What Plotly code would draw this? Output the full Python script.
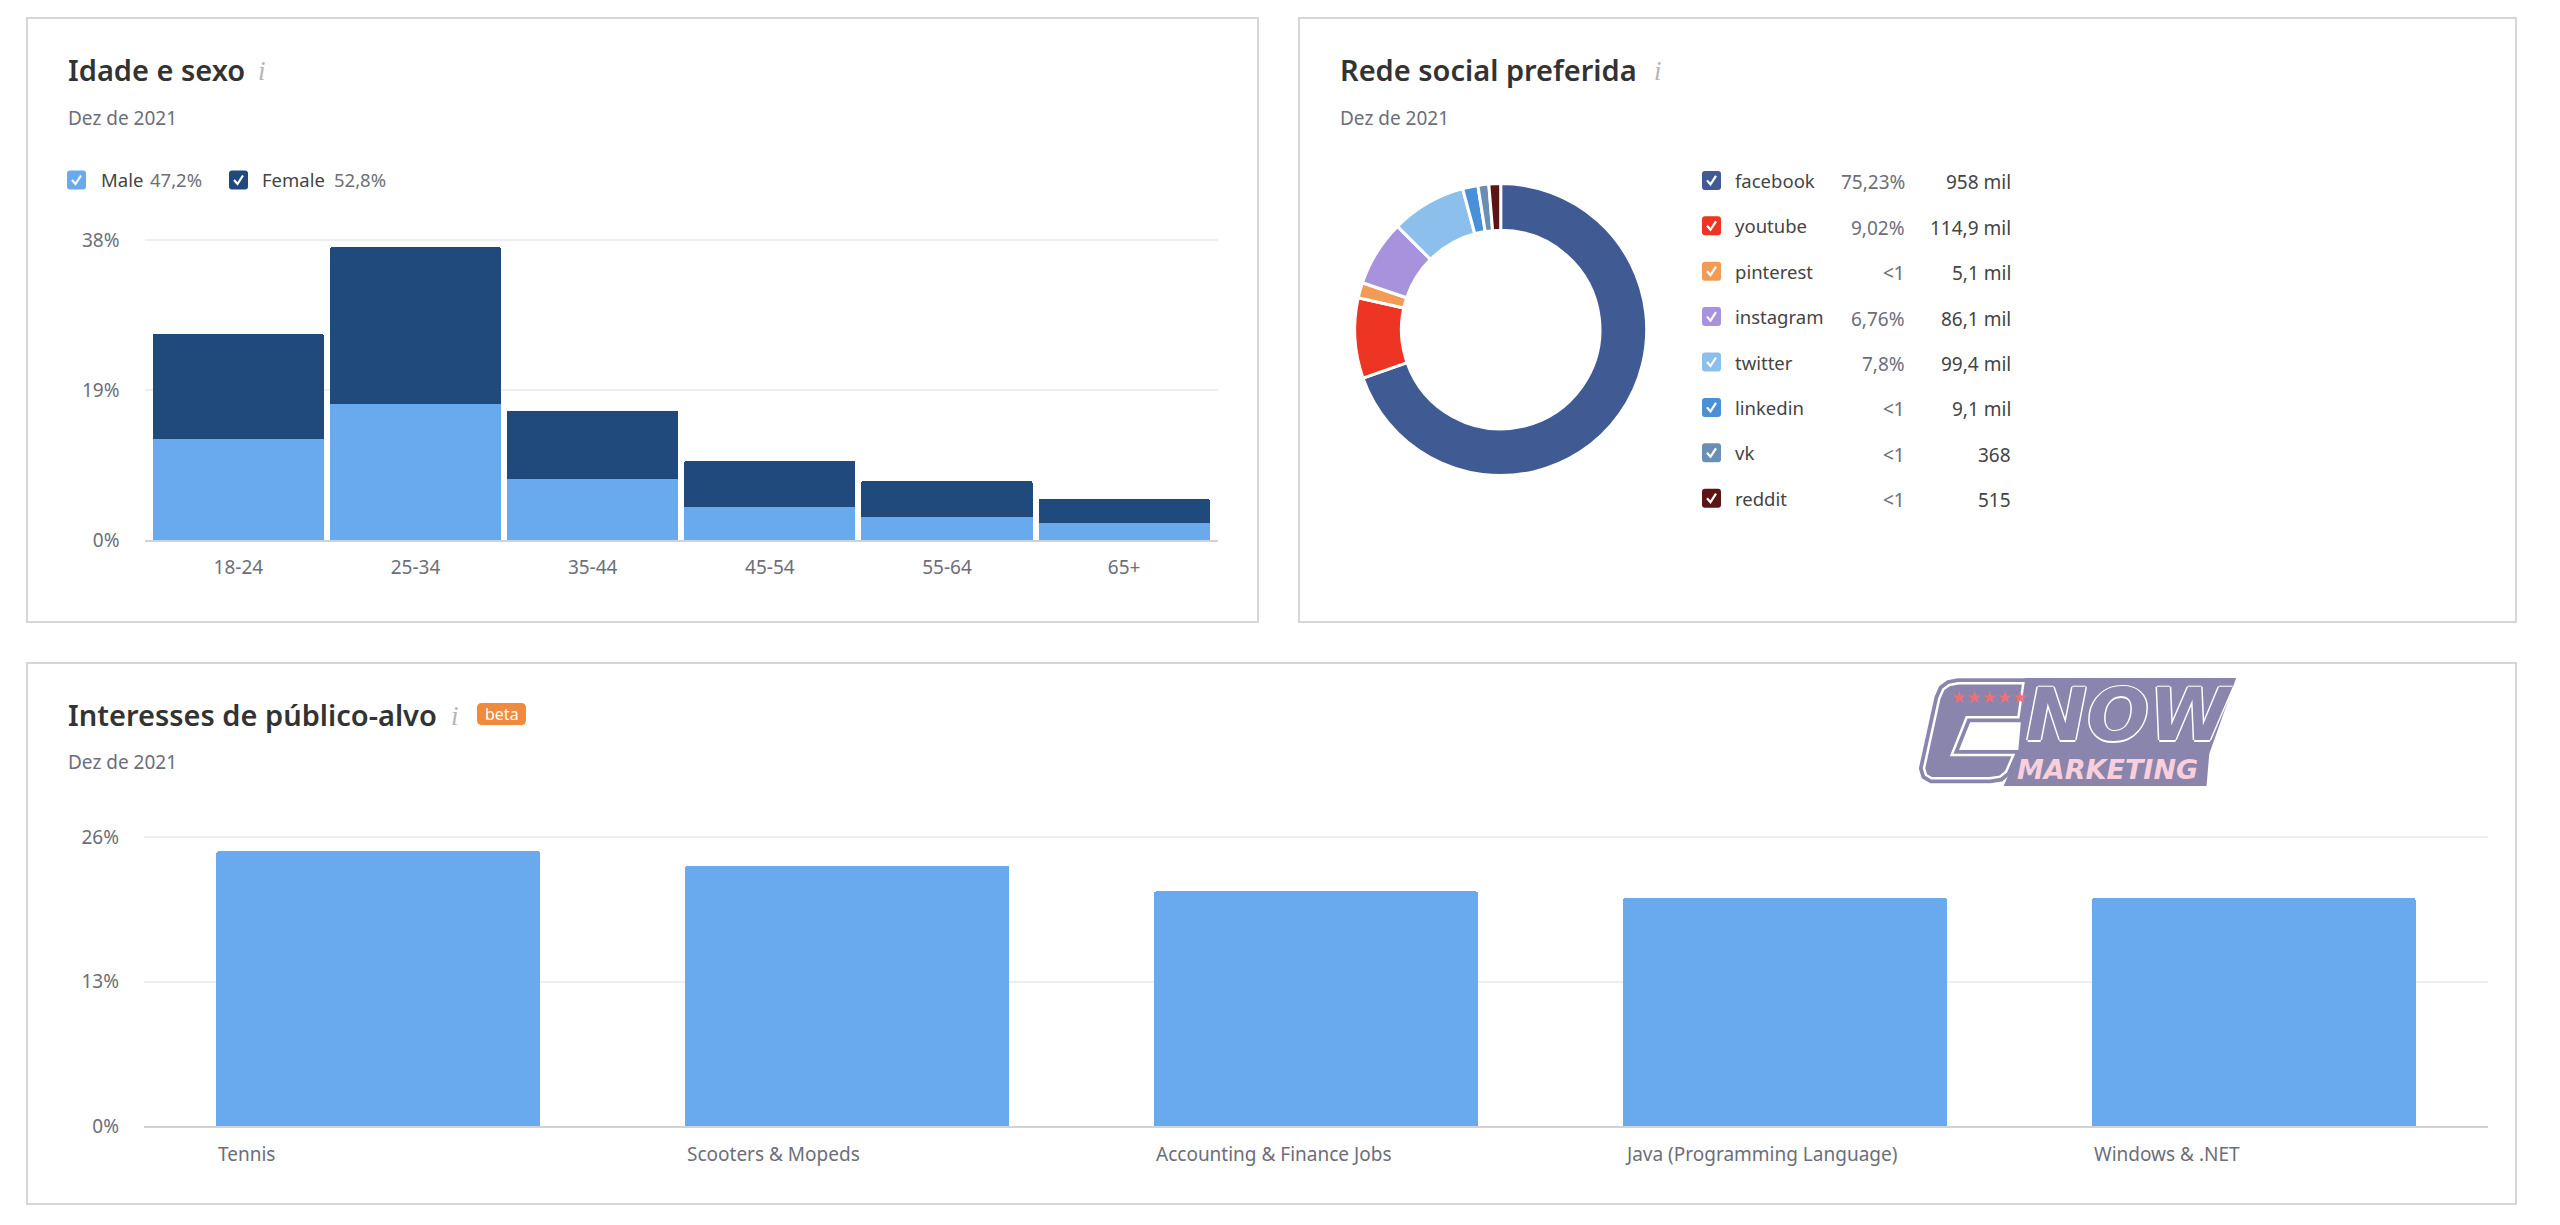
"""SEMrush-style audience dashboard: age and sex, social networks, interests."""

import plotly.graph_objects as go

W, H = 2560, 1225
FONT = "Noto Sans"

# ── Data ──────────────────────────────────────────────────────────────────────

age_groups = ["18-24", "25-34", "35-44", "45-54", "55-64", "65+"]
male_values = [12.8, 17.2, 7.7, 4.2, 2.9, 2.1]
female_values = [13.3, 19.9, 8.7, 5.8, 4.6, 3.1]
age_ticks = [0, 19, 38]
age_tick_labels = ["0%", "19%", "38%"]

social_names = ["facebook", "youtube", "pinterest", "instagram", "twitter", "linkedin", "vk", "reddit"]
social_shares = [69.6, 8.9, 1.7, 7.3, 8.3, 1.7, 1.2, 1.3]
social_pct = ["75,23%", "9,02%", "<1", "6,76%", "7,8%", "<1", "<1", "<1"]
social_counts = ["958 mil", "114,9 mil", "5,1 mil", "86,1 mil", "99,4 mil", "9,1 mil", "368", "515"]
social_colors = ["#405a94", "#ee3524", "#f29b56", "#a793dd", "#8dbfec", "#4a90d9", "#6a8fb3", "#5d1414"]

interest_names = ["Tennis", "Scooters & Mopeds", "Accounting & Finance Jobs",
                  "Java (Programming Language)", "Windows & .NET"]
interest_values = [24.7, 23.4, 21.1, 20.5, 20.5]
interest_ticks = [0, 13, 26]
interest_tick_labels = ["0%", "13%", "26%"]

LIGHT_BLUE = "#69aaee"
DARK_BLUE = "#214a7c"
GRID = "#eeeeee"
AXIS = "#cfd2d8"
TICK_TEXT = "#6c6e79"
TITLE_TEXT = "#333333"
BORDER = "#d6d6d6"
LOGO = "#8a85ad"


# ── Pixel helpers ─────────────────────────────────────────────────────────────

def px(x):
    return x / W


def py(y):
    return 1 - y / H


def label(x, y, text, size=19, color=TICK_TEXT, anchor="left", family=FONT, **font_kw):
    return dict(
        x=px(x), y=py(y), xref="paper", yref="paper", text=text, showarrow=False,
        xanchor=anchor, yanchor="middle", font=dict(family=family, size=size, color=color, **font_kw),
    )


def round_rect(x0, y0, x1, y1, r):
    return (
        f"M {px(x0 + r)} {py(y0)} L {px(x1 - r)} {py(y0)} "
        f"Q {px(x1)} {py(y0)} {px(x1)} {py(y0 + r)} L {px(x1)} {py(y1 - r)} "
        f"Q {px(x1)} {py(y1)} {px(x1 - r)} {py(y1)} L {px(x0 + r)} {py(y1)} "
        f"Q {px(x0)} {py(y1)} {px(x0)} {py(y1 - r)} L {px(x0)} {py(y0 + r)} "
        f"Q {px(x0)} {py(y0)} {px(x0 + r)} {py(y0)} Z"
    )


def checkbox(x, yc, color, size=19):
    y0 = yc - size / 2
    box = dict(type="path", xref="paper", yref="paper", path=round_rect(x, y0, x + size, y0 + size, 3),
               fillcolor=color, line=dict(width=0))
    tick = (
        f"M {px(x + 5)} {py(yc)} L {px(x + 8.5)} {py(yc + 4)} L {px(x + 14)} {py(yc - 4.5)}"
    )
    check = dict(type="path", xref="paper", yref="paper", path=tick, line=dict(color="white", width=2.2))
    return [box, check]


def panel(x0, y0, x1, y1):
    return dict(type="rect", xref="paper", yref="paper", x0=px(x0), x1=px(x1), y0=py(y0), y1=py(y1),
                line=dict(color=BORDER, width=2), fillcolor="rgba(0,0,0,0)", layer="below")


def panel_header(x, y_title, y_sub, title, info_x):
    return [
        label(x, y_title, title, size=29, color=TITLE_TEXT, weight=600),
        label(info_x, y_title + 2, "i", size=27, color="#b5b5b5", family="Liberation Serif", style="italic"),
        label(x, y_sub, "Dez de 2021"),
    ]


def logo_path(points):
    parts = [f"{px(1800 + x / 3)} {py(640 + y / 3)}" for x, y in points]
    return "M " + " L ".join(parts) + " Z"


# ── Figure ────────────────────────────────────────────────────────────────────

fig = go.Figure()

fig.add_trace(go.Bar(x=age_groups, y=male_values, name="Male", marker=dict(color=LIGHT_BLUE, line=dict(width=0)),
                     xaxis="x", yaxis="y"))
fig.add_trace(go.Bar(x=age_groups, y=female_values, name="Female", marker=dict(color=DARK_BLUE, line=dict(width=0)),
                     xaxis="x", yaxis="y"))

fig.add_trace(go.Pie(
    labels=social_names, values=social_shares, sort=False, direction="clockwise", rotation=0, hole=0.68,
    marker=dict(colors=social_colors, line=dict(color="white", width=3)), textinfo="none",
    domain=dict(x=[px(1500.7 - 146), px(1500.7 + 146)], y=[py(329.6 + 146), py(329.6 - 146)]),
))

fig.add_trace(go.Bar(x=list(range(len(interest_names))), y=interest_values, width=0.691,
                     marker=dict(color=LIGHT_BLUE, line=dict(width=0)), xaxis="x2", yaxis="y2"))

shapes = [panel(27, 18, 1258, 622), panel(1299, 18, 2516, 622), panel(27, 663, 2516, 1204)]
annotations = []

# headers
annotations += panel_header(66, 69, 118, "Idade e sexo", 256)
annotations += panel_header(1338, 69, 118, "Rede social preferida", 1652)
annotations += panel_header(66, 714, 762, "Interesses de público-alvo", 449)

# age/sex legend
shapes += checkbox(67, 180, LIGHT_BLUE)
annotations.append(label(99, 180, "Male", size=18.5, color="#444444"))
annotations.append(label(148, 180, "47,2%", size=18.5))
shapes += checkbox(229, 180, DARK_BLUE)
annotations.append(label(260, 180, "Female", size=18.5, color="#444444"))
annotations.append(label(332, 180, "52,8%", size=18.5))

# social network legend table
for i, name in enumerate(social_names):
    yc = 180.4 + 45.4 * i
    shapes += checkbox(1702, yc, social_colors[i])
    annotations.append(label(1733, yc, name, size=18.5, color="#444444"))
    annotations.append(label(1907, yc + 2, social_pct[i], anchor="right"))
    annotations.append(label(2013, yc + 2, social_counts[i], color="#444444", anchor="right"))

# interest labels sit flush with the left edge of each bar
for i, name in enumerate(interest_names):
    annotations.append(dict(
        x=i, y=py(1154), xref="x2", yref="paper", text=name, showarrow=False, xanchor="left", yanchor="middle",
        xshift=-162, font=dict(family=FONT, size=19, color=TICK_TEXT),
    ))

# beta badge
shapes.append(dict(type="path", xref="paper", yref="paper", path=round_rect(477, 703, 526, 725, 5),
                   fillcolor="#f08a3c", line=dict(width=0)))
annotations.append(label(501.5, 713.5, "beta", size=16, color="white", anchor="center"))

# watermark logo
now_back = [(680, 120), (1300, 120), (1222, 340), (1214, 432), (620, 432), (660, 340)]
c_outline = [(372, 385), (418, 175), (430, 148), (448, 135), (475, 130), (670, 130), (655, 232), (500, 232),
             (455, 345), (640, 345), (618, 395), (600, 410), (570, 415), (395, 415), (378, 405)]
shapes.append(dict(type="path", xref="paper", yref="paper", path=logo_path(now_back), fillcolor=LOGO,
                   line=dict(color=LOGO, width=4)))
shapes.append(dict(type="path", xref="paper", yref="paper", path=logo_path(c_outline), fillcolor=LOGO,
                   line=dict(color=LOGO, width=10)))
shapes.append(dict(type="path", xref="paper", yref="paper", path=logo_path(c_outline), fillcolor=LOGO,
                   line=dict(color="white", width=2.5)))
outline = "1.5px 0 0 white, -1.5px 0 0 white, 0 1.5px 0 white, 0 -1.5px 0 white"
annotations.append(label(2024, 714, "NOW", size=73, color=LOGO, family="DejaVu Sans", weight=700,
                         style="italic", shadow=outline))
annotations.append(label(1949, 697, "★★★★★", size=17, color="#ef6f72", family="DejaVu Sans"))
annotations.append(label(2015, 769, "MARKETING", size=27, color="#f9cfdc", family="DejaVu Sans", weight=700,
                         style="italic"))

axis_font = dict(family=FONT, size=19, color=TICK_TEXT)

fig.update_layout(
    width=W, height=H,
    margin=dict(l=0, r=0, t=0, b=0, autoexpand=False),
    paper_bgcolor="white", plot_bgcolor="white",
    barmode="stack", bargap=0.034,
    barcornerradius=2,
    showlegend=False,
    shapes=shapes, annotations=annotations,
    xaxis=dict(
        domain=[px(144.5), px(1218)], range=[-0.53, 5.53], type="category", anchor="y",
        showgrid=False, showline=True, linecolor=AXIS, linewidth=2, ticks="", tickfont=axis_font,
        ticklabelstandoff=9, layer="below traces",
    ),
    # ranges run a little past the top tick so its gridline is still drawn
    yaxis=dict(
        domain=[py(540), py(540 - 38.5 * 300 / 38)], range=[0, 38.5], anchor="x",
        tickvals=age_ticks, ticktext=age_tick_labels,
        showgrid=True, gridcolor=GRID, gridwidth=2, zeroline=False, showline=False, ticks="", tickfont=axis_font,
        ticklabelstandoff=24,
    ),
    xaxis2=dict(
        domain=[px(144), px(2488)], range=[-0.5, 4.5], anchor="y2", showgrid=False, showline=True,
        linecolor=AXIS, linewidth=2, ticks="", showticklabels=False, layer="below traces",
    ),
    yaxis2=dict(
        domain=[py(1126), py(1126 - 26.5 * 289 / 26)], range=[0, 26.5], anchor="x2",
        tickvals=interest_ticks, ticktext=interest_tick_labels,
        showgrid=True, gridcolor=GRID, gridwidth=2, zeroline=False, showline=False, ticks="", tickfont=axis_font,
        ticklabelstandoff=24,
    ),
)

fig.write_html("out.html", config={"displayModeBar": False}, post_script="document.body.style.margin='0';")
